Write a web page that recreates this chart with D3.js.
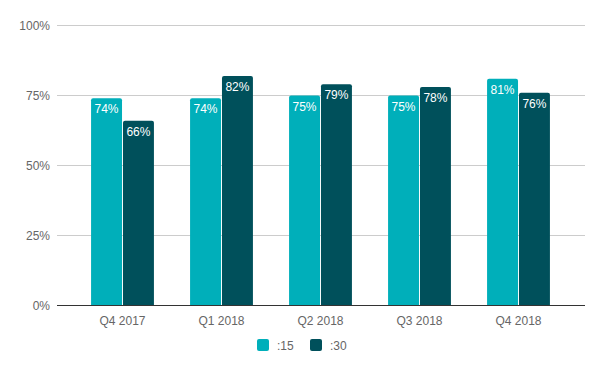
<!DOCTYPE html>
<html>
<head>
<meta charset="utf-8">
<script src="https://cdn.jsdelivr.net/npm/d3@7"></script>
<style>
  body { margin: 0; background: #fff; }
  svg { font-family: Arial, "Liberation Sans", sans-serif; }
</style>
</head>
<body>
<svg id="chart" width="604" height="371"></svg>
<script>
// data
const quarters = ["Q4 2017", "Q1 2018", "Q2 2018", "Q3 2018", "Q4 2018"];
const seriesNames = [":15", ":30"];
const values15 = [74, 74, 75, 75, 81];
const values30 = [66, 82, 79, 78, 76];
const yTicks = [0, 25, 50, 75, 100];

const colors = ["#00afba", "#00505b"];

const svg = d3.select("#chart");

// scales
const y = d3.scaleLinear().domain([0, 100]).range([305.5, 25.5]);
const x = d3.scaleBand().domain(quarters).range([73, 568]).paddingInner(0.365).paddingOuter(0.1825);
const xs = d3.scaleBand().domain(seriesNames).range([0, x.bandwidth()]).paddingInner(0.03);

// gridlines
svg.append("g")
  .selectAll("line")
  .data(yTicks.slice(1))
  .enter()
  .append("line")
  .attr("x1", 57).attr("x2", 585)
  .attr("y1", (d) => y(d)).attr("y2", (d) => y(d))
  .attr("stroke", "#cccccc")
  .attr("stroke-width", 1);

// y labels
svg.append("g")
  .selectAll("text")
  .data(yTicks)
  .enter()
  .append("text")
  .attr("x", 50)
  .attr("y", (d) => y(d) + 4)
  .attr("text-anchor", "end")
  .attr("font-size", 12)
  .attr("fill", "#666")
  .text((d) => d + "%");

// bars
const rows = quarters.map((q, i) => ({ q, vals: [values15[i], values30[i]] }));
const groups = svg.append("g")
  .selectAll("g")
  .data(rows)
  .enter()
  .append("g")
  .attr("transform", (d) => `translate(${x(d.q)},0)`);

function barPath(x0, w, top, bottom, r) {
  return `M${x0},${bottom}V${top + r}Q${x0},${top} ${x0 + r},${top}H${x0 + w - r}Q${x0 + w},${top} ${x0 + w},${top + r}V${bottom}Z`;
}

groups.selectAll("path")
  .data((d) => d.vals.map((v, j) => ({ v, j })))
  .enter()
  .append("path")
  .attr("d", (d) => barPath(xs(seriesNames[d.j]), xs.bandwidth(), y(d.v), y(0), 2))
  .attr("fill", (d) => colors[d.j]);

groups.selectAll("text")
  .data((d) => d.vals.map((v, j) => ({ v, j })))
  .enter()
  .append("text")
  .attr("x", (d) => xs(seriesNames[d.j]) + xs.bandwidth() / 2)
  .attr("y", (d) => y(d.v) + 15)
  .attr("text-anchor", "middle")
  .attr("font-size", 12)
  .attr("fill", "#fff")
  .text((d) => d.v + "%");

// baseline
svg.append("line")
  .attr("x1", 57).attr("x2", 585)
  .attr("y1", y(0)).attr("y2", y(0))
  .attr("stroke", "#333")
  .attr("stroke-width", 1);

// x labels
svg.append("g")
  .selectAll("text")
  .data(quarters)
  .enter()
  .append("text")
  .attr("x", (d) => x(d) + x.bandwidth() / 2)
  .attr("y", y(0) + 19)
  .attr("text-anchor", "middle")
  .attr("font-size", 12)
  .attr("fill", "#666")
  .text((d) => d);

// legend
const legendX = [257, 310];
const legend = svg.append("g")
  .selectAll("g")
  .data(seriesNames)
  .enter()
  .append("g")
  .attr("transform", (d, i) => `translate(${legendX[i]},339)`);

legend.append("rect")
  .attr("width", 12).attr("height", 12)
  .attr("rx", 2)
  .attr("fill", (d, i) => colors[i]);

legend.append("text")
  .attr("x", 20)
  .attr("y", 10.5)
  .attr("font-size", 12)
  .attr("fill", "#666")
  .text((d) => d);
</script>
</body>
</html>
